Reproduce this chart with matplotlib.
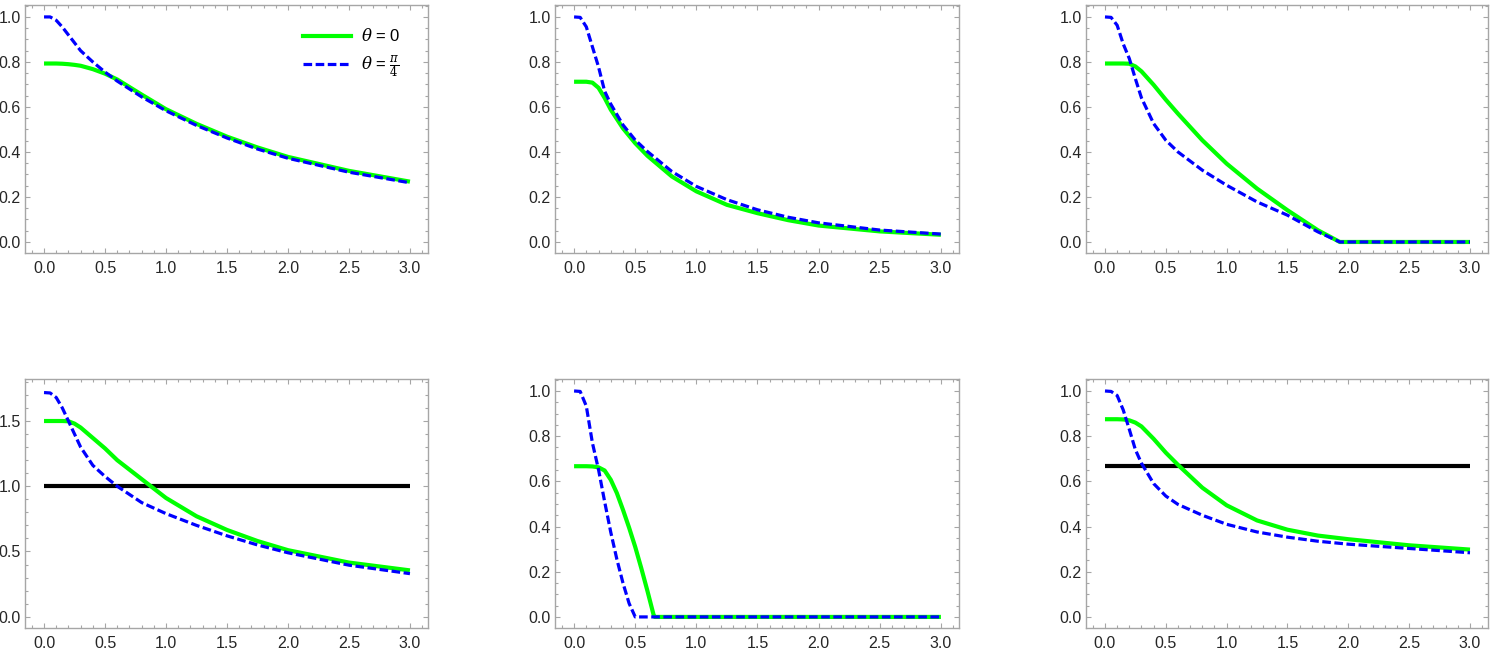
# -*- coding: utf-8 -*-
import numpy as np
import matplotlib
matplotlib.use('Agg')
from matplotlib import pyplot as plt
from matplotlib.ticker import MultipleLocator, FormatStrFormatter

plt.rcParams['font.family'] = ['Liberation Sans', 'DejaVu Sans']
plt.rcParams['mathtext.fontset'] = 'dejavuserif'

# Valores (theta = 0 en verde, theta = pi/4 en azul)
x_a = [0, 0.05, 0.1, 0.15, 0.2, 0.25, 0.3, 0.4, 0.5, 0.6, 0.8, 1.0, 1.25, 1.5, 1.75, 2.0, 2.5, 3.0]
verde_a = [0.793, 0.793, 0.793, 0.792, 0.79, 0.787, 0.783, 0.768, 0.748, 0.722, 0.655, 0.59, 0.525, 0.468, 0.42, 0.378, 0.316, 0.268]
azul_a = [1.0, 1.0, 0.985, 0.955, 0.92, 0.885, 0.85, 0.80, 0.755, 0.715, 0.645, 0.583, 0.518, 0.462, 0.413, 0.372, 0.31, 0.263]

x_b = [0, 0.05, 0.1, 0.15, 0.2, 0.25, 0.3, 0.4, 0.5, 0.6, 0.8, 1.0, 1.25, 1.5, 1.75, 2.0, 2.5, 3.0]
verde_b = [0.712, 0.712, 0.712, 0.708, 0.685, 0.64, 0.588, 0.505, 0.439, 0.383, 0.291, 0.225, 0.165, 0.128, 0.097, 0.073, 0.047, 0.032]
azul_b = [1.0, 0.998, 0.956, 0.867, 0.778, 0.67, 0.613, 0.52, 0.453, 0.402, 0.313, 0.247, 0.188, 0.143, 0.11, 0.085, 0.053, 0.035]

x_c = [0, 0.05, 0.1, 0.15, 0.2, 0.25, 0.3, 0.4, 0.5, 0.6, 0.8, 1.0, 1.25, 1.5, 1.75, 1.93, 2.0, 2.5, 3.0]
verde_c = [0.793, 0.793, 0.793, 0.793, 0.792, 0.78, 0.758, 0.698, 0.632, 0.57, 0.452, 0.348, 0.237, 0.141, 0.052, 0.0, 0.0, 0.0, 0.0]
azul_c = [1.0, 0.998, 0.963, 0.88, 0.815, 0.725, 0.64, 0.526, 0.452, 0.40, 0.319, 0.252, 0.178, 0.119, 0.045, 0.0, 0.0, 0.0, 0.0]

x_d = [0, 0.05, 0.1, 0.15, 0.2, 0.25, 0.3, 0.4, 0.5, 0.6, 0.8, 1.0, 1.25, 1.5, 1.75, 2.0, 2.5, 3.0]
verde_d = [1.5, 1.5, 1.5, 1.5, 1.498, 1.48, 1.45, 1.37, 1.29, 1.2, 1.055, 0.91, 0.77, 0.665, 0.58, 0.51, 0.415, 0.355]
azul_d = [1.718, 1.715, 1.68, 1.6, 1.5, 1.4, 1.3, 1.16, 1.075, 1.0, 0.875, 0.79, 0.70, 0.62, 0.55, 0.49, 0.395, 0.33]
negro_d = 1.0

x_e = [0, 0.05, 0.1, 0.15, 0.2, 0.25, 0.3, 0.35, 0.4, 0.45, 0.5, 0.55, 0.6, 0.65, 0.66, 1.0, 2.0, 3.0]
verde_e = [0.667, 0.667, 0.667, 0.666, 0.662, 0.648, 0.607, 0.548, 0.474, 0.395, 0.31, 0.215, 0.115, 0.01, 0.0, 0.0, 0.0, 0.0]
azul_e = [1.0, 0.998, 0.933, 0.77, 0.652, 0.51, 0.375, 0.255, 0.15, 0.06, 0.0, 0.0, 0.0, 0.0, 0.0, 0.0, 0.0, 0.0]

x_f = [0, 0.05, 0.1, 0.15, 0.2, 0.25, 0.3, 0.4, 0.5, 0.6, 0.8, 1.0, 1.25, 1.5, 1.75, 2.0, 2.5, 3.0]
verde_f = [0.875, 0.875, 0.875, 0.874, 0.87, 0.86, 0.843, 0.788, 0.727, 0.673, 0.572, 0.494, 0.427, 0.386, 0.36, 0.344, 0.317, 0.298]
azul_f = [1.0, 0.998, 0.98, 0.916, 0.83, 0.74, 0.68, 0.59, 0.535, 0.498, 0.45, 0.41, 0.376, 0.353, 0.335, 0.322, 0.303, 0.284]
negro_f = 2.0 / 3.0

paneles = [
    (x_a, verde_a, azul_a, None),
    (x_b, verde_b, azul_b, None),
    (x_c, verde_c, azul_c, None),
    (x_d, verde_d, azul_d, negro_d),
    (x_e, verde_e, azul_e, None),
    (x_f, verde_f, azul_f, negro_f),
]

W, H = 1495, 654
fig = plt.figure(figsize=(W / 100, H / 100), dpi=100)

# posiciones de los ejes en pixeles (izq, der, arriba, abajo)
cols = [(25, 428), (555, 959), (1086, 1488)]
filas = [(5, 253), (379, 628)]

gris = '#a6a6a6'
texto = '#262626'
discontinua = (0, (2.7, 1.1))

for i, (x, verde, azul, negro) in enumerate(paneles):
    fila, col = divmod(i, 3)
    l, r = cols[col]
    t, b = filas[fila]
    ax = fig.add_axes([l / W, 1 - b / H, (r - l) / W, (b - t) / H])

    ax.plot(x, verde, color='#00ff00', lw=3.0, solid_capstyle='butt', zorder=3)
    ax.plot(x, azul, color='#0000ff', lw=2.3, linestyle=discontinua, zorder=4)
    if negro is not None:
        ax.plot([x[0], x[-1]], [negro, negro], color='black', lw=3.0, solid_capstyle='butt', zorder=2)

    ax.set_xlim(-0.156, 3.148)
    if i == 3:
        ax.set_ylim(-0.0866, 1.822)
        ax.yaxis.set_major_locator(MultipleLocator(0.5))
        ax.yaxis.set_minor_locator(MultipleLocator(0.1))
    else:
        ax.set_ylim(-0.049, 1.053)
        ax.yaxis.set_major_locator(MultipleLocator(0.2))
        ax.yaxis.set_minor_locator(MultipleLocator(0.05))
    ax.xaxis.set_major_locator(MultipleLocator(0.5))
    ax.xaxis.set_minor_locator(MultipleLocator(0.1))
    ax.xaxis.set_major_formatter(FormatStrFormatter('%.1f'))
    ax.yaxis.set_major_formatter(FormatStrFormatter('%.1f'))

    for s in ax.spines.values():
        s.set_color(gris)
        s.set_linewidth(1.0)
    ax.tick_params(which='both', direction='in', top=True, right=True, color=gris,
                   labelcolor=texto, labelsize=11.5, width=0.8)
    ax.tick_params(which='major', length=3.6)
    ax.tick_params(which='minor', length=2.0)
    ax.tick_params(axis='x', which='major', pad=5.5)
    ax.tick_params(axis='y', which='major', pad=3.0)

    if i == 0:
        ax.plot([], [], color='#00ff00', lw=3.0, label=r'$\theta$ = 0')
        ax.plot([], [], color='#0000ff', lw=2.3, linestyle=discontinua,
                label=r'$\theta$ = $\frac{\pi}{4}$')
        ax.legend(loc='upper right', bbox_to_anchor=(0.97, 0.97), frameon=False,
                  fontsize=12, handlelength=2.9, labelspacing=0.55, handletextpad=0.6)

fig.savefig('out.png', dpi=100)
